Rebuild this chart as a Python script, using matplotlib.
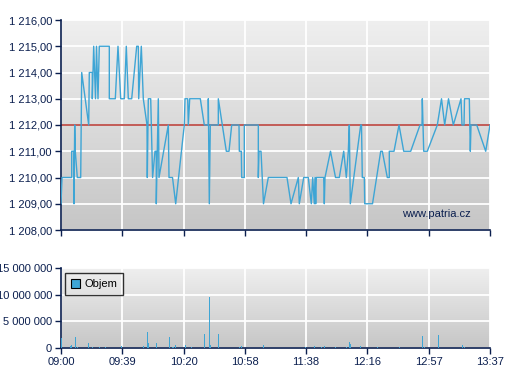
import numpy as np
import matplotlib
matplotlib.use("Agg")
import matplotlib.pyplot as plt
from matplotlib.colors import LinearSegmentedColormap
from matplotlib.ticker import FuncFormatter

# ---- data (minutes since 09:00) ----
price_min = [0, 0.65, 6.91, 6.91, 8.39, 8.39, 8.85, 9.23, 10.52, 12.72, 13.37, 17.89, 18.27,
             20.21, 20.21, 21.11, 22.28, 22.92, 23.89, 24.73, 31.19, 31.19, 35.06, 36.80,
             38.55, 40.87, 42.16, 43.46, 45.65, 48.88, 49.91, 50.17, 51.85, 53.14, 55.53,
             55.72, 56.37, 57.92, 59.14, 60.70, 61.53, 61.53, 62.83, 63.28, 69.28, 69.74,
             72.0, 74.06, 79.61, 80.07, 81.81, 82.20, 83.10, 89.95, 92.53, 95.11, 95.11,
             95.76, 96.40, 101.57, 101.57, 106.74, 108.48, 110.22, 114.93, 115.13, 116.42,
             116.68, 118.36, 118.36, 127.40, 127.40, 127.85, 129.14, 130.75, 133.85, 145.93,
             148.51, 153.23, 153.87, 156.71, 159.68, 161.62, 162.52, 163.56, 164.01, 164.46,
             164.85, 169.63, 170.01, 170.46, 174.02, 177.25, 179.70, 182.54, 184.22, 185.51,
             186.16, 186.80, 193.52, 194.03, 194.55, 195.84, 196.10, 201.14, 206.43, 207.46,
             210.69, 211.98, 211.98, 215.02, 218.25, 221.28, 225.80, 231.81, 233.10, 233.29,
             234.20, 236.52, 242.98, 245.69, 247.75, 250.21, 253.31, 258.28, 258.93, 260.22,
             260.54, 263.64, 264.29, 264.74, 268.42, 274.23, 277.0]
price = [1209, 1210, 1210, 1211, 1211, 1209, 1212, 1211, 1210, 1210, 1214, 1212, 1214,
         1214, 1213, 1215, 1213, 1215, 1213, 1215, 1215, 1213, 1213, 1215,
         1213, 1213, 1215, 1213, 1213, 1215, 1215, 1213, 1215, 1213, 1212,
         1210, 1213, 1213, 1210, 1211, 1211, 1209, 1213, 1210, 1212, 1210,
         1210, 1209, 1212, 1213, 1213, 1212, 1213, 1213, 1212, 1212, 1213,
         1209, 1212, 1212, 1213, 1211, 1211, 1212, 1212, 1211, 1211,
         1210, 1210, 1212, 1212, 1210, 1211, 1211, 1209, 1210, 1210,
         1209, 1210, 1209, 1210, 1210, 1209, 1210, 1209, 1210, 1209,
         1210, 1210, 1209, 1210, 1211, 1210, 1210, 1211, 1210, 1211,
         1212, 1209, 1212, 1212, 1210, 1210, 1209, 1209, 1211, 1211,
         1210, 1210, 1211, 1211, 1212, 1211, 1211, 1212, 1212, 1213,
         1211, 1211, 1212, 1213, 1212, 1213, 1212, 1213, 1212, 1212,
         1213, 1213, 1211, 1212, 1212, 1211, 1212]
ref_price = 1212

vol_min = [0.2, 6.24, 6.89, 8.39, 9.47, 10.76, 11.62, 12.91, 17.65, 20.23, 24.75, 28.63,
           39.17, 53.16, 55.74, 56.39, 61.77, 70.17, 72.10, 72.75, 73.82, 80.28, 84.15,
           92.55, 95.78, 96.42, 101.59, 115.15, 116.44, 130.65, 157.77, 163.58, 168.10,
           170.03, 177.13, 184.45, 186.17, 186.82, 193.28, 204.25, 218.46, 233.31, 234.60,
           236.32, 242.13, 243.64, 259.13, 260.42, 273.77]
volume = [1.9e6, 0.3e6, 0.6e6, 0.3e6, 2.1e6, 0.2e6, 0.25e6, 0.25e6, 1.0e6, 0.2e6, 0.25e6, 0.2e6,
          0.45e6, 0.4e6, 2.95e6, 1.0e6, 1.0e6, 2.1e6, 0.2e6, 0.25e6, 0.6e6, 0.6e6, 0.25e6,
          2.55e6, 9.6e6, 0.6e6, 2.55e6, 0.25e6, 0.45e6, 0.6e6, 0.2e6, 0.45e6, 0.2e6,
          0.45e6, 0.2e6, 0.2e6, 1.2e6, 0.8e6, 0.45e6, 0.2e6, 0.2e6, 2.2e6, 0.2e6,
          0.2e6, 0.2e6, 2.4e6, 0.6e6, 0.2e6, 0.2e6]

time_labels = ["09:00", "09:39", "10:20", "10:58", "11:38", "12:16", "12:57", "13:37"]
price_ticks = [1208, 1209, 1210, 1211, 1212, 1213, 1214, 1215, 1216]
vol_ticks = [0, 5e6, 10e6, 15e6]

# ---- style ----
navy = "#0b1f4f"
line_c = "#3ea5d5"
plt.rcParams['font.family'] = ['Liberation Sans', 'DejaVu Sans']
fs = 8

fig = plt.figure(figsize=(5.07, 3.80), dpi=100)
L, R = 61 / 507, 490 / 507
ax1 = fig.add_axes([L, 1 - 230 / 380, R - L, 210 / 380])
ax2 = fig.add_axes([L, 1 - 348 / 380, R - L, 80 / 380])

grad_cmap = LinearSegmentedColormap.from_list("g", ["#c6c6c6", "#efefef"])
tick_pos = np.linspace(0, 277, len(time_labels))


def fmt_num(v, dec):
    s = f"{v:,.{dec}f}"
    s = s.replace(",", " ").replace(".", ",")
    return s


for ax in (ax1, ax2):
    ax.imshow(np.linspace(0, 1, 256).reshape(-1, 1)[::-1], cmap=grad_cmap,
              extent=[0, 1, 0, 1], transform=ax.transAxes, aspect='auto', zorder=0)
    ax.set_xlim(0, 277)
    ax.set_xticks(tick_pos)
    ax.grid(True, color="white", linewidth=1.3, zorder=1)
    ax.set_axisbelow(True)
    for s in ("top", "right"):
        ax.spines[s].set_visible(False)
    for s in ("left", "bottom"):
        ax.spines[s].set_color(navy)
        ax.spines[s].set_linewidth(1.2)
    ax.tick_params(colors=navy, labelcolor=navy, labelsize=fs, length=4, width=1, pad=2.5)

# price panel
ax1.set_ylim(1208, 1216)
ax1.set_yticks(price_ticks)
ax1.yaxis.set_major_formatter(FuncFormatter(lambda v, p: fmt_num(v, 2)))
ax1.set_xticklabels([])
ax1.axhline(ref_price, color="#b3302a", linewidth=1.1, zorder=2)
ax1.plot(price_min, price, color=line_c, linewidth=1.0, zorder=3)
ax1.text(0.955, 0.075, "www.patria.cz", transform=ax1.transAxes, ha="right",
         va="center", color=navy, fontsize=8, zorder=4)

# volume panel
ax2.set_ylim(0, 15e6)
ax2.set_yticks(vol_ticks)
ax2.yaxis.set_major_formatter(FuncFormatter(lambda v, p: fmt_num(v, 0)))
ax2.set_xticklabels(time_labels)
ax2.bar(vol_min, volume, width=0.6, color=line_c, linewidth=0, zorder=3, label="Objem")
leg = ax2.legend(loc="upper left", fontsize=fs, frameon=True, fancybox=False,
                 handlelength=0.8, handleheight=0.8, borderpad=0.55, handletextpad=0.4,
                 borderaxespad=0, bbox_to_anchor=(0.009, 0.9375))
leg.get_frame().set_edgecolor("black")
leg.get_frame().set_facecolor("none")
leg.get_frame().set_linewidth(1.0)
for h in leg.legend_handles:
    h.set_edgecolor("black")
    h.set_linewidth(0.8)
for t in leg.get_texts():
    t.set_color("black")

fig.savefig("out.png", dpi=100)
